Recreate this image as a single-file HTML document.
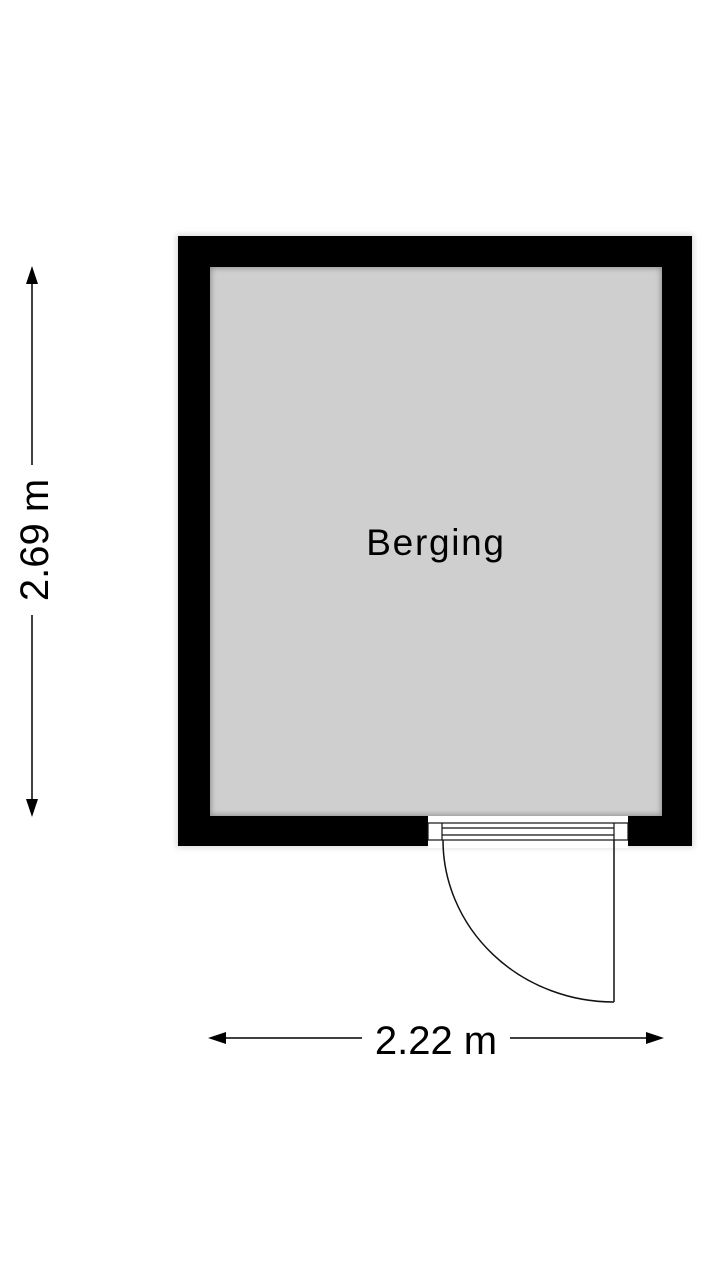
<!DOCTYPE html>
<html><head><style>body{margin:0;background:#fff;}</style></head><body>
<svg width="720" height="1280" xmlns="http://www.w3.org/2000/svg">
<defs><filter id="s" x="-10%" y="-10%" width="120%" height="120%"><feGaussianBlur stdDeviation="3"/></filter>
<clipPath id="c"><rect x="210" y="267" width="452" height="549"/></clipPath></defs>
<rect x="176" y="234" width="518" height="614" fill="#ddd" filter="url(#s)"/>
<rect x="178" y="236" width="514" height="610" fill="#000"/>
<rect x="210" y="267" width="452" height="549" fill="#cfcfcf"/>
<rect x="208" y="265" width="456" height="553" fill="none" stroke="#8a8a8a" stroke-width="6" filter="url(#s)" clip-path="url(#c)"/>
<rect x="428" y="816" width="200" height="32" fill="#fff"/>
<g stroke="#111" stroke-width="1.2" fill="none">
<rect x="428" y="823" width="200" height="17"/>
<line x1="442" y1="823" x2="442" y2="840"/><line x1="614" y1="823" x2="614" y2="840"/>
<line x1="442" y1="828" x2="614" y2="828"/><line x1="442" y1="835" x2="614" y2="835"/>
<path d="M443 840 A171 162 0 0 0 614 1002" stroke-width="1.5"/>
<line x1="614" y1="840" x2="614" y2="1002" stroke-width="1.5"/>
</g>
<g stroke="#000" stroke-width="1.5">
<line x1="32" y1="280" x2="32" y2="465"/><line x1="32" y1="615" x2="32" y2="805"/>
<line x1="222" y1="1038" x2="362" y2="1038"/><line x1="510" y1="1038" x2="650" y2="1038"/>
</g>
<polygon points="32,266 26,284 38,284"/><polygon points="32,817 26,799 38,799"/>
<polygon points="208,1038 226,1032 226,1044"/><polygon points="664,1038 646,1032 646,1044"/>
<text x="436" y="1054" font-family="Liberation Sans, sans-serif" font-size="40" text-anchor="middle">2.22 m</text>
<text transform="translate(48,540) rotate(-90)" font-family="Liberation Sans, sans-serif" font-size="40" text-anchor="middle">2.69 m</text>
<text x="436" y="555" font-family="Liberation Sans, sans-serif" font-size="37" text-anchor="middle" letter-spacing="1.7">Berging</text>
</svg>
</body></html>
